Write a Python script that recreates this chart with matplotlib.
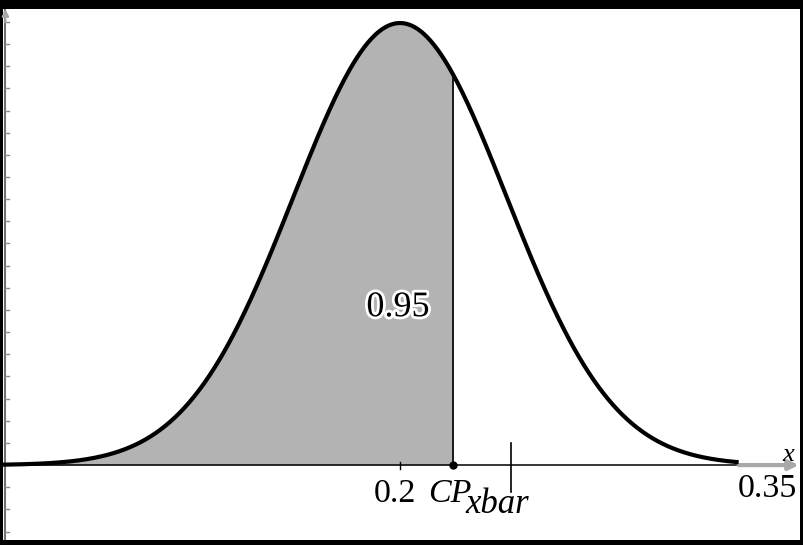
import numpy as np
import matplotlib
matplotlib.use("Agg")
import matplotlib.pyplot as plt
import matplotlib.patheffects as pe

# distribution and marked values
mu = 0.2
sigma = 0.04
cp_xbar = 0.22
xbar = 0.2415
area_label = "0.95"
x_min, x_max = 0.0511, 0.35
curve_end = 0.327
tick_labels = ["0.2", "0.35"]


def pdf(x):
    return np.exp(-0.5 * ((x - mu) / sigma) ** 2) / (sigma * np.sqrt(2 * np.pi))


fig = plt.figure(figsize=(8.04, 5.45), dpi=100, facecolor="black")
ax = fig.add_axes([3 / 804, 5 / 545, 797 / 804, 531 / 545])
ax.set_facecolor("white")
ax.set_xlim(x_min, x_max)
ax.set_ylim(-1.69, 10.29)
ax.set_xticks([])
ax.set_yticks([])
for s in ax.spines.values():
    s.set_visible(False)

xs = np.linspace(x_min, curve_end, 600)
ys = pdf(xs)

# shaded region up to CP_xbar
xf = np.linspace(x_min, cp_xbar, 400)
ax.fill_between(xf, 0, pdf(xf), color="#b3b3b3", lw=0, zorder=1)
ax.plot([cp_xbar, cp_xbar], [0, pdf(cp_xbar)], color="black", lw=1.2, zorder=2)

# x axis
ax.plot([x_min, curve_end], [0, 0], color="black", lw=1.1, zorder=2)
ax.annotate("", xy=(x_max - 0.0005, 0), xytext=(curve_end, 0),
            arrowprops=dict(arrowstyle="-|>", color="#a8a8a8", lw=3,
                            mutation_scale=14, shrinkA=0, shrinkB=0), zorder=2)

# y axis at the left edge
ax.plot([0.002, 0.002], [0, 1], transform=ax.transAxes, color="#707070",
        lw=1.5, zorder=2)
for yt in np.arange(-1.5, 10.01, 0.5):
    ax.plot([0.002, 0.008], [yt, yt], transform=ax.get_yaxis_transform(),
            color="#8a8a8a", lw=1, zorder=2)
ax.annotate("", xy=(0.003, 1.0), xytext=(0.003, 0.975), xycoords="axes fraction",
            arrowprops=dict(arrowstyle="-|>", color="#a8a8a8", lw=1.5,
                            mutation_scale=10, shrinkA=0, shrinkB=0))

# curve
ax.plot(xs, ys, color="black", lw=3, solid_capstyle="butt", zorder=3)

# marks on the axis
ax.plot([mu, mu], [-0.08, 0.08], color="black", lw=1, zorder=3)
ax.plot([cp_xbar], [0], "o", color="black", ms=5, zorder=4)
ax.plot([xbar, xbar], [-0.6, 0.5], color="black", lw=1.2, zorder=3)

serif = "Liberation Serif"
ax.text(mu - 0.0019, -0.83, tick_labels[0], ha="center", va="baseline",
        fontsize=24.5, family=serif)
ax.text(0.349, -0.72, tick_labels[1], ha="right", va="baseline",
        fontsize=24.5, family=serif)
ax.text(0.2105, -0.83, "CP", ha="left", va="baseline", fontsize=24.5,
        family=serif, style="italic")
ax.text(0.2244, -1.08, "xbar", ha="left", va="baseline", fontsize=25,
        family=serif, style="italic")
ax.text(0.3457, 0.1, "x", ha="center", va="baseline", fontsize=19,
        family=serif, style="italic")

ax.text(0.1992, 3.55, area_label, ha="center", va="center", fontsize=26,
        family=serif, zorder=5,
        path_effects=[pe.withStroke(linewidth=4, foreground="white")])

fig.savefig("out.png", dpi=100, facecolor="black")
